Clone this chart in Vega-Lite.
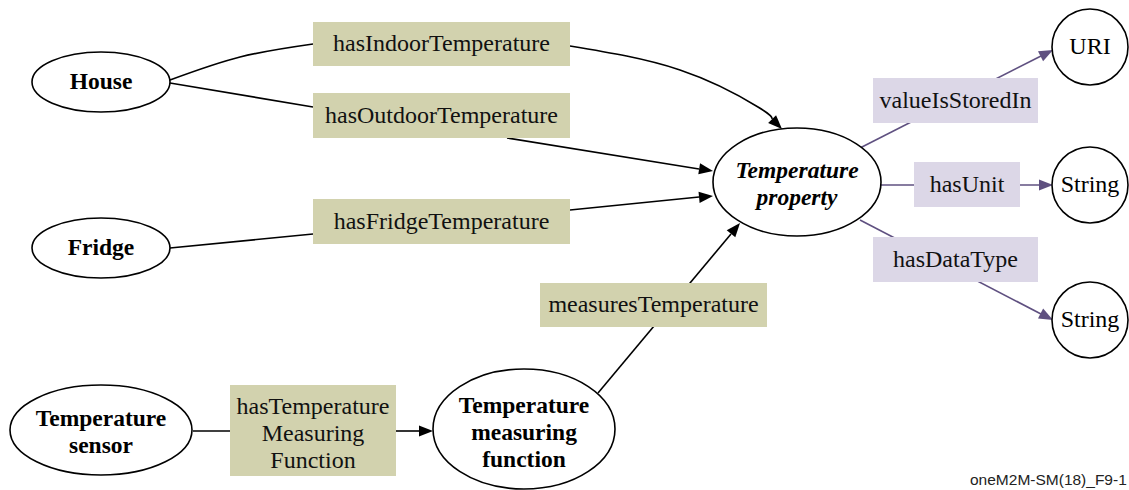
{
  "$schema": "https://vega.github.io/schema/vega-lite/v6.json",
  "width": 1129,
  "height": 490,
  "padding": 0,
  "autosize": {"type": "none"},
  "background": "white",
  "config": {"view": {"stroke": null}, "axis": {"disable": true}},
  "datasets": {
    "edges": [
      {"id": "e1", "grp": "obj", "seq": 0, "x": 170, "y": 80},
      {"id": "e1", "grp": "obj", "seq": 1, "x": 240, "y": 57},
      {"id": "e1", "grp": "obj", "seq": 2, "x": 313, "y": 44},
      {"id": "e2", "grp": "obj", "seq": 0, "x": 570, "y": 46},
      {"id": "e2", "grp": "obj", "seq": 1, "x": 680, "y": 70},
      {"id": "e2", "grp": "obj", "seq": 2, "x": 758, "y": 107},
      {"id": "e2", "grp": "obj", "seq": 3, "x": 772, "y": 119},
      {"id": "e3", "grp": "obj", "seq": 0, "x": 170, "y": 83},
      {"id": "e3", "grp": "obj", "seq": 1, "x": 313, "y": 107},
      {"id": "e4", "grp": "obj", "seq": 0, "x": 507, "y": 138},
      {"id": "e4", "grp": "obj", "seq": 1, "x": 699, "y": 169},
      {"id": "e5", "grp": "obj", "seq": 0, "x": 170, "y": 248},
      {"id": "e5", "grp": "obj", "seq": 1, "x": 313, "y": 234},
      {"id": "e6", "grp": "obj", "seq": 0, "x": 570, "y": 210},
      {"id": "e6", "grp": "obj", "seq": 1, "x": 699, "y": 197},
      {"id": "e7", "grp": "obj", "seq": 0, "x": 598, "y": 393},
      {"id": "e7", "grp": "obj", "seq": 1, "x": 731, "y": 234},
      {"id": "e8", "grp": "obj", "seq": 0, "x": 193, "y": 431},
      {"id": "e8", "grp": "obj", "seq": 1, "x": 230, "y": 431},
      {"id": "e9", "grp": "obj", "seq": 0, "x": 396, "y": 431},
      {"id": "e9", "grp": "obj", "seq": 1, "x": 420, "y": 431},
      {"id": "e10", "grp": "data", "seq": 0, "x": 860, "y": 148},
      {"id": "e10", "grp": "data", "seq": 1, "x": 1041, "y": 56},
      {"id": "e11", "grp": "data", "seq": 0, "x": 880, "y": 185},
      {"id": "e11", "grp": "data", "seq": 1, "x": 1040, "y": 185},
      {"id": "e12", "grp": "data", "seq": 0, "x": 860, "y": 220},
      {"id": "e12", "grp": "data", "seq": 1, "x": 1041, "y": 314}
    ],
    "arrows": [
      {"grp": "obj", "x": 782, "y": 129, "angle": 45},
      {"grp": "obj", "x": 713, "y": 171, "angle": 9},
      {"grp": "obj", "x": 713, "y": 196, "angle": -5.6},
      {"grp": "obj", "x": 740, "y": 223, "angle": -50},
      {"grp": "obj", "x": 433, "y": 431, "angle": 0},
      {"grp": "data", "x": 1053, "y": 50, "angle": -27},
      {"grp": "data", "x": 1053, "y": 185, "angle": 0},
      {"grp": "data", "x": 1053, "y": 320, "angle": 27.4}
    ],
    "boxes": [
      {"text": "hasIndoorTemperature", "grp": "obj", "x1": 313, "x2": 570, "y1": 22, "y2": 66, "lx": 441.5, "ly": 44},
      {"text": "hasOutdoorTemperature", "grp": "obj", "x1": 313, "x2": 570, "y1": 93, "y2": 138, "lx": 441.5, "ly": 115.5},
      {"text": "hasFridgeTemperature", "grp": "obj", "x1": 313, "x2": 570, "y1": 199, "y2": 244, "lx": 441.5, "ly": 221.5},
      {"text": "measuresTemperature", "grp": "obj", "x1": 540, "x2": 767, "y1": 283, "y2": 327, "lx": 653.5, "ly": 305},
      {"text": "hasTemperature\nMeasuring\nFunction", "grp": "obj", "x1": 230, "x2": 396, "y1": 385, "y2": 476, "lx": 313, "ly": 407},
      {"text": "valueIsStoredIn", "grp": "data", "x1": 873, "x2": 1038, "y1": 78, "y2": 123, "lx": 955.5, "ly": 100.5},
      {"text": "hasUnit", "grp": "data", "x1": 914, "x2": 1020, "y1": 162, "y2": 207, "lx": 967, "ly": 184.5},
      {"text": "hasDataType", "grp": "data", "x1": 873, "x2": 1038, "y1": 237, "y2": 282, "lx": 955.5, "ly": 259.5}
    ],
    "nodes": [
      {"label": "House", "kind": "small", "style": "bold", "x": 101, "y": 82, "ly": 82},
      {"label": "Fridge", "kind": "small", "style": "bold", "x": 101, "y": 248, "ly": 248},
      {"label": "Temperature\nsensor", "kind": "sensor", "style": "bold", "x": 101, "y": 430, "ly": 419},
      {"label": "Temperature\nmeasuring\nfunction", "kind": "function", "style": "bold", "x": 524, "y": 429, "ly": 406},
      {"label": "Temperature\nproperty", "kind": "property", "style": "bolditalic", "x": 797, "y": 182, "ly": 171},
      {"label": "URI", "kind": "literal", "style": "plain", "x": 1090, "y": 47, "ly": 47},
      {"label": "String", "kind": "literal", "style": "plain", "x": 1090, "y": 185, "ly": 185},
      {"label": "String", "kind": "literal", "style": "plain", "x": 1090, "y": 320, "ly": 320}
    ],
    "notes": [
      {"text": "oneM2M-SM(18)_F9-1", "x": 970, "y": 485}
    ]
  },
  "layer": [
    {
      "data": {"name": "edges"},
      "mark": {"type": "line", "interpolate": "natural", "strokeWidth": 1.6},
      "encoding": {
        "x": {"field": "x", "type": "quantitative", "scale": {"domain": [0, 1129], "nice": false, "zero": false}, "axis": null},
        "y": {"field": "y", "type": "quantitative", "scale": {"domain": [0, 490], "nice": false, "zero": false, "reverse": true}, "axis": null},
        "detail": {"field": "id"},
        "order": {"field": "seq", "type": "quantitative"},
        "color": {"field": "grp", "type": "nominal", "scale": {"domain": ["obj", "data"], "range": ["#000000", "#5f5080"]}, "legend": null}
      }
    },
    {
      "data": {"name": "arrows"},
      "mark": {"type": "point", "shape": "M0,0L-2,-0.8L-2,0.8Z", "filled": true, "opacity": 1, "size": 196},
      "encoding": {
        "x": {"field": "x", "type": "quantitative"},
        "y": {"field": "y", "type": "quantitative"},
        "angle": {"field": "angle", "type": "quantitative", "scale": null},
        "color": {"field": "grp", "type": "nominal", "legend": null}
      }
    },
    {
      "data": {"name": "boxes"},
      "mark": {"type": "rect"},
      "encoding": {
        "x": {"field": "x1", "type": "quantitative"},
        "x2": {"field": "x2"},
        "y": {"field": "y1", "type": "quantitative"},
        "y2": {"field": "y2"},
        "fill": {"field": "grp", "type": "nominal", "scale": {"domain": ["obj", "data"], "range": ["#d2d2ae", "#dcd7e7"]}, "legend": null}
      }
    },
    {
      "data": {"name": "boxes"},
      "mark": {"type": "text", "font": "Liberation Serif", "fontSize": 24, "lineBreak": "\n", "lineHeight": 27, "baseline": "middle", "align": "center", "color": "#111111"},
      "encoding": {
        "x": {"field": "lx", "type": "quantitative"},
        "y": {"field": "ly", "type": "quantitative"},
        "text": {"field": "text"}
      }
    },
    {
      "data": {"name": "nodes"},
      "mark": {"type": "point", "filled": true, "fill": "white", "stroke": "black", "strokeWidth": 1.6, "opacity": 1, "size": 40000},
      "encoding": {
        "x": {"field": "x", "type": "quantitative"},
        "y": {"field": "y", "type": "quantitative"},
        "shape": {"field": "kind", "type": "nominal", "legend": null, "scale": {
          "domain": ["small", "sensor", "function", "property", "literal"],
          "range": [
            "M-0.69,0A0.69,0.3 0 1,0 0.69,0A0.69,0.3 0 1,0 -0.69,0Z",
            "M-0.91,0A0.91,0.45 0 1,0 0.91,0A0.91,0.45 0 1,0 -0.91,0Z",
            "M-0.91,0A0.91,0.6 0 1,0 0.91,0A0.91,0.6 0 1,0 -0.91,0Z",
            "M-0.84,0A0.84,0.54 0 1,0 0.84,0A0.84,0.54 0 1,0 -0.84,0Z",
            "M-0.38,0A0.38,0.38 0 1,0 0.38,0A0.38,0.38 0 1,0 -0.38,0Z"
          ]}}
      }
    },
    {
      "data": {"name": "nodes"},
      "transform": [{"filter": "datum.style == 'bold'"}],
      "mark": {"type": "text", "font": "Liberation Serif", "fontSize": 23.5, "fontWeight": "bold", "lineBreak": "\n", "lineHeight": 27, "baseline": "middle", "align": "center", "color": "#000000"},
      "encoding": {
        "x": {"field": "x", "type": "quantitative"},
        "y": {"field": "ly", "type": "quantitative"},
        "text": {"field": "label"}
      }
    },
    {
      "data": {"name": "nodes"},
      "transform": [{"filter": "datum.style == 'bolditalic'"}],
      "mark": {"type": "text", "font": "Liberation Serif", "fontSize": 23.5, "fontWeight": "bold", "fontStyle": "italic", "lineBreak": "\n", "lineHeight": 27, "baseline": "middle", "align": "center", "color": "#000000"},
      "encoding": {
        "x": {"field": "x", "type": "quantitative"},
        "y": {"field": "ly", "type": "quantitative"},
        "text": {"field": "label"}
      }
    },
    {
      "data": {"name": "nodes"},
      "transform": [{"filter": "datum.style == 'plain'"}],
      "mark": {"type": "text", "font": "Liberation Serif", "fontSize": 24, "baseline": "middle", "align": "center", "color": "#000000"},
      "encoding": {
        "x": {"field": "x", "type": "quantitative"},
        "y": {"field": "ly", "type": "quantitative"},
        "text": {"field": "label"}
      }
    },
    {
      "data": {"name": "notes"},
      "mark": {"type": "text", "font": "Liberation Sans", "fontSize": 15.5, "baseline": "alphabetic", "align": "left", "color": "#222222"},
      "encoding": {
        "x": {"field": "x", "type": "quantitative"},
        "y": {"field": "y", "type": "quantitative"},
        "text": {"field": "text"}
      }
    }
  ]
}
